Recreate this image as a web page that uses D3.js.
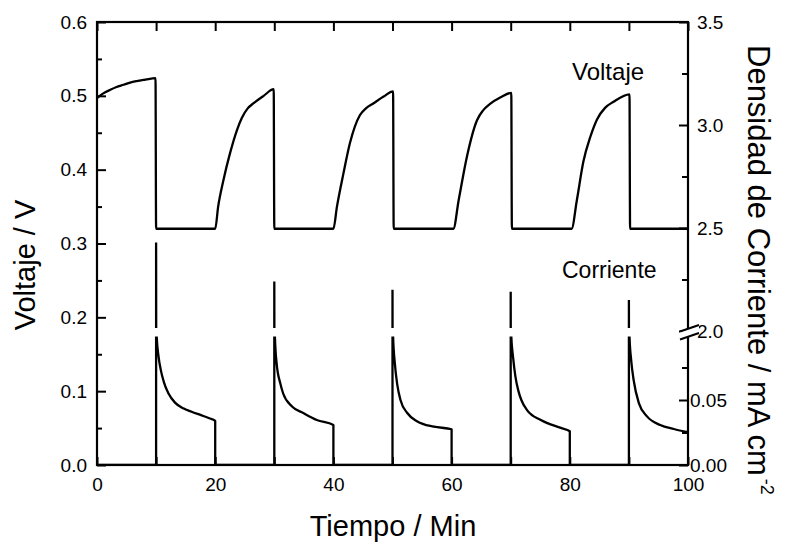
<!DOCTYPE html>
<html>
<head>
<meta charset="utf-8">
<script src="https://cdn.jsdelivr.net/npm/d3@7"></script>
<style>
  html, body { margin: 0; padding: 0; background: #fff; }
  svg { display: block; }
  text { font-family: "Liberation Sans", Arial, sans-serif; fill: #000; }
</style>
</head>
<body>
<svg id="chart" width="792" height="547"></svg>
<script>
// ---------- DATA ----------
// Voltage (left axis, V) vs time (min)
const voltTime = [
  0, 1, 2.2, 3.3, 4.5, 5.6, 6.7, 8.2, 9.9, 10, 20,
  20.5, 21.4, 22.5, 23.7, 24.5, 25.5, 26.5, 28.2, 29.9, 30, 40,
  40.6, 41.7, 42.8, 44.5, 45.5, 46.8, 48.5, 50.1, 50.2, 60.3,
  61.2, 62.6, 64.3, 65.3, 66.5, 68.3, 70.1, 70.2, 80.3,
  81.2, 82.3, 83.5, 84.6, 86, 87.4, 90.1, 90.2, 100
];
const voltValue = [
  0.497, 0.503, 0.508, 0.512, 0.515, 0.518, 0.520, 0.522, 0.524, 0.32, 0.32,
  0.350, 0.386, 0.422, 0.454, 0.470, 0.483, 0.490, 0.500, 0.509, 0.32, 0.32,
  0.350, 0.395, 0.436, 0.474, 0.483, 0.490, 0.499, 0.506, 0.32, 0.32,
  0.359, 0.418, 0.467, 0.480, 0.489, 0.498, 0.504, 0.32, 0.32,
  0.359, 0.411, 0.445, 0.468, 0.484, 0.492, 0.502, 0.32, 0.32
];

// Current density (right axis, mA cm^-2) vs time (min)
const currTime = [
  0, 10, 10, 10.1, 10.4, 10.8, 11.3, 12.1, 13.2, 14.6, 16, 17.5, 19, 20, 20,
  30, 30, 30.1, 30.4, 31.0, 31.5, 33, 34.9, 37.2, 40, 40,
  50, 50, 50.1, 50.4, 50.8, 51.35, 52.5, 54.2, 57, 60, 60,
  70, 70, 70.1, 70.4, 70.8, 71.3, 71.8, 72.8, 75.1, 78.5, 80, 80,
  90, 90, 90.1, 90.4, 90.8, 91.7, 93.1, 95.3, 97.6, 100
];
const currValue = [
  0, 0, 2.43, 0.099, 0.084, 0.073, 0.064, 0.055, 0.048, 0.0436, 0.041, 0.0385, 0.036, 0.034, 0,
  0, 2.24, 0.099, 0.078, 0.063, 0.055, 0.045, 0.040, 0.0346, 0.0308, 0,
  0, 2.20, 0.099, 0.078, 0.062, 0.050, 0.040, 0.0335, 0.0295, 0.0275, 0,
  0, 2.19, 0.099, 0.083, 0.068, 0.057, 0.050, 0.042, 0.0346, 0.0285, 0.026, 0,
  0, 2.15, 0.099, 0.080, 0.0654, 0.0474, 0.0372, 0.0308, 0.0277, 0.0252
];

// Ticks
const xMajorTicks = [0, 20, 40, 60, 80, 100];
const xMinorTicks = [10, 30, 50, 70, 90];
const leftMajorTicks = [0.0, 0.1, 0.2, 0.3, 0.4, 0.5, 0.6];
const leftMinorTicks = [0.05, 0.15, 0.25, 0.35, 0.45, 0.55];
const rightUpperMajorTicks = [2.0, 2.5, 3.0, 3.5];
const rightUpperMinorTicks = [2.25, 2.75, 3.25];
const rightLowerMajorTicks = [0.00, 0.05];
const rightLowerMinorTicks = [0.025, 0.075];

// ---------- LAYOUT ----------
const L = 97, R = 688, T = 22, B = 465;
const breakY = 331;

const svg = d3.select("#chart");

const x = d3.scaleLinear().domain([0, 100]).range([L, R]);
const yL = d3.scaleLinear().domain([0, 0.6]).range([B, T]);
const yRU = d3.scaleLinear().domain([2.0, 3.5]).range([breakY, T]);
const yRL = d3.scaleLinear().domain([0, 0.1]).range([B, 335]);

const defs = svg.append("defs");
defs.append("clipPath").attr("id", "clipUpper")
  .append("rect").attr("x", L).attr("y", T).attr("width", R - L).attr("height", 328 - T);
defs.append("clipPath").attr("id", "clipLower")
  .append("rect").attr("x", L).attr("y", 336.5).attr("width", R - L).attr("height", B - 336.5);
defs.append("clipPath").attr("id", "clipAll")
  .append("rect").attr("x", L).attr("y", T).attr("width", R - L).attr("height", B - T);

const fontTick = 19;

function styleAxis(g, fs) {
  g.select(".domain").remove();
  g.selectAll(".tick line").attr("stroke", "#000").attr("stroke-width", 2);
  g.selectAll(".tick text")
    .style("font-family", '"Liberation Sans", Arial, sans-serif')
    .style("font-size", fs + "px").attr("fill", "#000");
}

// Bottom axis
svg.append("g").attr("transform", `translate(0,${B})`)
  .call(d3.axisBottom(x).tickValues(xMajorTicks).tickSize(-8).tickPadding(13).tickFormat(d3.format("d")))
  .call(g => styleAxis(g, fontTick));
svg.append("g").attr("transform", `translate(0,${B})`)
  .call(d3.axisBottom(x).tickValues(xMinorTicks).tickSize(-8).tickFormat(""))
  .call(g => styleAxis(g, fontTick));
// Top axis
svg.append("g").attr("transform", `translate(0,${T})`)
  .call(d3.axisTop(x).tickValues(xMajorTicks.concat(xMinorTicks)).tickSize(-9).tickFormat(""))
  .call(g => styleAxis(g, fontTick));

// Left axis
svg.append("g").attr("transform", `translate(${L},0)`)
  .call(d3.axisLeft(yL).tickValues(leftMajorTicks).tickSize(-9).tickPadding(10).tickFormat(d3.format(".1f")))
  .call(g => styleAxis(g, fontTick));
svg.append("g").attr("transform", `translate(${L},0)`)
  .call(d3.axisLeft(yL).tickValues(leftMinorTicks).tickSize(-5).tickFormat(""))
  .call(g => styleAxis(g, fontTick));

// Right axis (upper segment)
svg.append("g").attr("transform", `translate(${R},0)`)
  .call(d3.axisRight(yRU).tickValues(rightUpperMajorTicks).tickSize(-9).tickPadding(9).tickFormat(d3.format(".1f")))
  .call(g => styleAxis(g, fontTick));
svg.append("g").attr("transform", `translate(${R},0)`)
  .call(d3.axisRight(yRU).tickValues(rightUpperMinorTicks).tickSize(-6).tickFormat(""))
  .call(g => styleAxis(g, fontTick));
// Right axis (lower segment)
svg.append("g").attr("transform", `translate(${R},0)`)
  .call(d3.axisRight(yRL).tickValues(rightLowerMajorTicks).tickSize(-9).tickPadding(2).tickFormat(d3.format(".2f")))
  .call(g => styleAxis(g, fontTick));
svg.append("g").attr("transform", `translate(${R},0)`)
  .call(d3.axisRight(yRL).tickValues(rightLowerMinorTicks).tickSize(-6).tickFormat(""))
  .call(g => styleAxis(g, fontTick));

// Frame
svg.append("rect").attr("x", L).attr("y", T).attr("width", R - L).attr("height", B - T)
  .attr("fill", "none").attr("stroke", "#000").attr("stroke-width", 2.2);

// ---------- SERIES ----------
const voltData = voltTime.map((t, i) => [t, voltValue[i]]);
const currData = currTime.map((t, i) => [t, currValue[i]]);

const lineV = d3.line().curve(d3.curveMonotoneX).x(d => x(d[0])).y(d => yL(d[1]));
const lineCU = d3.line().x(d => x(d[0])).y(d => yRU(d[1]));
const lineCL = d3.line().curve(d3.curveMonotoneX).x(d => x(d[0])).y(d => yRL(d[1]));

svg.append("path").datum(voltData).attr("d", lineV)
  .attr("clip-path", "url(#clipAll)")
  .attr("fill", "none").attr("stroke", "#000").attr("stroke-width", 2.3).attr("stroke-linejoin", "round");
svg.append("path").datum(currData).attr("d", lineCU)
  .attr("clip-path", "url(#clipUpper)")
  .attr("fill", "none").attr("stroke", "#000").attr("stroke-width", 2.3);
svg.append("path").datum(currData).attr("d", lineCL)
  .attr("clip-path", "url(#clipLower)")
  .attr("fill", "none").attr("stroke", "#000").attr("stroke-width", 2.3).attr("stroke-linejoin", "round");

// Axis break marks
const brk = svg.append("g");
brk.append("path")
  .attr("d", `M${R - 8},${breakY + 0.5} L${R + 11},${breakY - 6} L${R + 11},${breakY + 2} L${R - 8},${breakY + 8.5} Z`)
  .attr("fill", "#fff").attr("stroke", "none");
brk.append("line").attr("x1", R - 8).attr("y1", breakY + 0.5).attr("x2", R + 11).attr("y2", breakY - 6)
  .attr("stroke", "#000").attr("stroke-width", 2);
brk.append("line").attr("x1", R - 8).attr("y1", breakY + 8.5).attr("x2", R + 11).attr("y2", breakY + 2)
  .attr("stroke", "#000").attr("stroke-width", 2);

// ---------- TEXT ----------
svg.append("text").attr("x", 572).attr("y", 80).style("font-size", "24px").text("Voltaje");
svg.append("text").attr("x", 562).attr("y", 278).style("font-size", "23px").text("Corriente");

svg.append("text").attr("x", 393).attr("y", 536).attr("text-anchor", "middle")
  .style("font-size", "29px").text("Tiempo / Min");

svg.append("text").attr("transform", "translate(35,265) rotate(-90)").attr("text-anchor", "middle")
  .style("font-size", "29px").text("Voltaje / V");

const rt = svg.append("text").attr("transform", "translate(748,45) rotate(90)")
  .style("font-size", "31px");
rt.append("tspan").text("Densidad de Corriente / mA cm");
rt.append("tspan").attr("dy", -13).attr("dx", 3).style("font-size", "18px").text("-2");
</script>
</body>
</html>
